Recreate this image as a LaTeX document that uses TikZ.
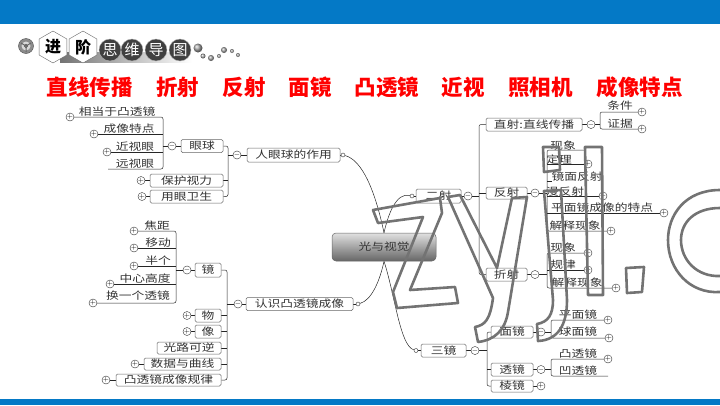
\documentclass[tikz,border=0pt]{standalone}
\usepackage{fontspec}
\newfontfamily\cjk{Noto Sans CJK SC}
\newfontfamily\mapfont[FakeStretch=1.25]{Noto Sans CJK SC}
\usetikzlibrary{backgrounds,shapes.geometric}
\definecolor{barblue}{RGB}{4,121,198}
\definecolor{wordred}{RGB}{255,0,0}
\tikzset{
  mapbox/.style={draw=black!60,fill=white,rounded corners=1.5pt,inner sep=0pt,line width=0.5pt,font=\mapfont\fontsize{10.2}{11}\selectfont,text=black!80},
  leaftext/.style={inner sep=0pt,font=\mapfont\fontsize{10.2}{11}\selectfont,text=black!80},
  foldmark/.style={circle,draw=black!80,fill=white,inner sep=0pt,minimum size=7.5pt,line width=0.4pt,font=\fontsize{7}{7}\selectfont},
  hookmark/.style={circle,draw=black!80,fill=white,inner sep=0pt,minimum size=4pt,line width=0.4pt},
  linkline/.style={draw=black!85,line width=0.5pt},
  hexmark/.style={regular polygon,regular polygon sides=6,shape border rotate=30,draw=black!60,fill=white,inner sep=0pt,minimum size=32pt,font=\cjk\bfseries\fontsize{16}{16}\selectfont},
  discmark/.style={circle,fill=black!75,draw=black!30,inner sep=0pt,minimum size=22pt,text=white,font=\cjk\fontsize{15}{15}\selectfont},
  ballmark/.style={circle,ball color=black!35,inner sep=0pt},
  wordmark/.style={inner sep=0pt,text=wordred,font=\cjk\bfseries\fontsize{21.5}{22}\selectfont},
  watermark/.style={draw=black!55,line width=2.6pt,line join=round}
}
\begin{document}
\begin{tikzpicture}[x=1pt,y=-1pt]
  \useasboundingbox (0,0) rectangle (720,405);
  \fill[barblue] (0,0) rectangle (720,24);
  \fill[barblue] (0,399) rectangle (720,405);

  \shade[left color=black!55,right color=white] (60,52) rectangle (192,62);
  \filldraw[fill=black!45,draw=black!70,line width=0.4pt] (26,46) circle (7.5);
  \fill[black!15] (26,46) circle (4.5);
  \filldraw[fill=black!45,draw=black!70,line width=0.4pt] (26,46) circle (1.8);
  \draw[black!60,line width=1pt] (26,46) -- (26,52) (26,46) -- (21,43) (26,46) -- (31,43);
  \node[hexmark] (hexAdvance) at (53,47) {进};
  \node[hexmark] (hexStep) at (83,47) {阶};
  \foreach \n/\x/\t in {discA/110/思,discB/132/维,discC/156/导,discD/180/图}
    \node[discmark] (\n) at (\x,50) {\t};
  \foreach \n/\x/\y/\r in {ballA/198/48/9,ballB/203/56/5,ballC/211/58/6,ballD/219/56/4,ballE/224/50/6,ballF/232/51/4,ballG/238/55/4}
    \node[ballmark,minimum size=\r pt] (\n) at (\x,\y) {};

  \foreach \n/\x/\t in {wordA/89.5/直线传播,wordB/177.5/折射,wordC/244/反射,wordD/310/面镜,wordE/387/凸透镜,wordF/463/近视,wordG/540.5/照相机,wordH/639.5/成像特点}
    \node[wordmark] (\n) at (\x,87) {\t};

  \foreach \n/\x/\y in {sEye/163/146,sRole/228/155,sLens/176/270,sConvex/227/304,sTwo/479/196,sLine/600/124.5,sReflect/547/193,sRefract/547/274.5,sThree/487/350.5,sMirror/551/332,sGlass/551/369.5}
    \coordinate (\n) at (\x,\y);
  \foreach \n/\x/\y in {cFar/108/169,cPhen/585/150,cSpec/552/181,cConcave/608/376}
    \coordinate (\n) at (\x,\y);

  \node[mapbox,minimum height=28pt,minimum width=104pt,rounded corners=4pt,draw=black!60,top color=black!12,bottom color=black!60] (bCore) at (384,247) {光与视觉};

  \foreach \n/\x/\y/\w/\h/\t in {
    bEyeRole/293.5/155/93/14/人眼球的作用,bEye/202/146/42/13/眼球,bGuard/186.5/180.5/73/13/保护视力,bCare/186.5/196.5/73/13/用眼卫生,
    bConvex/299.5/304/107/13/认识凸透镜成像,bLens/208/270/26/14/镜,bObject/208/315.5/26/13/物,bImage/208/331.5/26/13/像,
    bPath/189/348/64/12/光路可逆,bData/182.5/364/77/12/数据与曲线,bRule/168.5/380/105/12/凸透镜成像规律,
    bTwo/438.5/196/45/14/二射,bLine/534/124.5/96/13/直射:直线传播,bReflect/506.5/193/41/12/反射,bRefract/506.5/274.5/41/13/折射,
    bThree/443.5/350.5/45/13/三镜,bMirror/512/332/42/12/面镜,bGlass/512/369.5/42/13/透镜,bPrism/512/386/42/12/棱镜}
    \node[mapbox,minimum width=\w pt,minimum height=\h pt] (\n) at (\x,\y) {\t};

  \foreach \n/\x/\y/\s in {
    fEyeRole/237/155/-,fEye/172/146/-,fA/70/117/+,fB/94/134/+,fC/107/152/+,fGuard/141/180.5/+,fCare/142/196.5/+,
    fConvex/238/304/-,fLens/187/270/-,fFocus/134/231/+,fMove/134/248/+,fHalf/134/266/+,fHeight/110/284/+,fSwap/93/303/+,
    fObject/187/315.5/+,fImage/187/331.5/+,fData/135/364/+,fRule/106/380/+,
    fTwo/468/196/-,fLine/591/124.5/-,fCond/642/112/+,fProof/642/129/+,fReflect/535/193/-,fTheorem/588/164/+,fDiffuse/603/196/+,
    fPlane/664/213/+,fExplainA/611/231/+,fRefract/535/274.5/-,fPhen/588/253/+,fLaw/588/270/+,fExplainB/616/288/+,
    fThree/475/350.5/-,fMirror/541/332/-,fFlat/608/320/+,fBall/609/338/+,fGlass/541/369.5/-,fConv/608/359/+,fPrism/541/386/+}
    \node[foldmark] (\n) at (\x,\y) {$\s$};

  \foreach \n/\x/\y in {hEyeRole/343/155,hConvex/358/304,hTwo/412/196,hThree/416/350.5}
    \node[hookmark] (\n) at (\x,\y) {};

  \foreach \n/\x/\y/\t in {
    tA/117/112/相当于凸透镜,tB/129/129/成像特点,tC/135/147/近视眼,tD/135/164/远视眼,
    tFocus/157/226/焦距,tMove/158/243/移动,tHalf/158/261/半个,tHeight/145/279/中心高度,tSwap/138/296/换一个透镜,
    tCond/620/106/条件,tProof/620/124/证据,tPhenA/563/146/现象,tTheorem/559/160/定理,tSpec/577/177/镜面反射,tDiffuse/565/192/漫反射,
    tPlane/602/208/平面镜成像的特点,tExplainA/575/226/解释现象,tPhenB/563/248/现象,tLaw/563/265/规律,tExplainB/577/283/解释现象,
    tFlat/578/315/平面镜,tBall/578/332/球面镜,tConv/578/354/凸透镜,tConcave/578/371/凹透镜}
    \node[leaftext] (\n) at (\x,\y) {\t};

  \begin{scope}[on background layer]
    \foreach \s/\t/\b/\m in {
      sEye/fA/cFar/{fB,fC,fEye},sRole/bEye/bCare/{bGuard,fEyeRole},sLens/fFocus/fSwap/{fMove,fHalf,fHeight,fLens},
      sConvex/bLens/bRule/{bObject,bImage,bPath,bData,fConvex},sTwo/bLine/bRefract/{bReflect,fTwo},sLine/fCond/fProof/{fLine},
      sReflect/cPhen/fExplainA/{fTheorem,cSpec,fDiffuse,fPlane,fReflect},sRefract/fPhen/fExplainB/{fLaw,fRefract},
      sThree/bMirror/bPrism/{bGlass,fThree},sMirror/fFlat/fBall/{fMirror},sGlass/fConv/cConcave/{fGlass}}{
      \draw[linkline,rounded corners=2pt] (\t) -| (\s) |- (\b);
      \foreach \a in \m \draw[linkline] (\a) -- (\a -| \s);
    }
    \foreach \a/\b in {fEye/bEye,fGuard/bGuard,fCare/bCare,fEyeRole/bEyeRole,hEyeRole/bEyeRole,fConvex/bConvex,hConvex/bConvex,fLens/bLens,fObject/bObject,fImage/bImage,fData/bData,fRule/bRule,
      fTwo/bTwo,hTwo/bTwo,hThree/bThree,fLine/bLine,fReflect/bReflect,fRefract/bRefract,fThree/bThree,fMirror/bMirror,fGlass/bGlass,fPrism/bPrism}
      \draw[linkline] (\a) -- (\b);
    \draw[linkline] (hEyeRole) .. controls (362,160) and (375,190) .. (bCore.north);
    \draw[linkline] (hTwo) .. controls (396,192) and (388,215) .. (bCore.north);
    \draw[linkline] (hConvex) .. controls (372,300) and (380,280) .. (bCore.south);
    \draw[linkline] (hThree) .. controls (400,346) and (395,295) .. (bCore.south);
  \end{scope}

  \draw[watermark] (373,210) -- (440,198) -- (442,213) -- (410,290) -- (455,287) -- (458,303) -- (397,308) -- (393,292) -- (423,217) -- (378,223) -- cycle;
  \draw[watermark] (448,197) -- (460,195) -- (497,268) -- (512,198) -- (527,197) -- (508,312) .. controls (505,330) and (495,340) .. (478,342) -- (475,327) .. controls (485,325) and (490,320) .. (493,298) -- cycle;
  \draw[watermark] (544,191) -- (561,190) -- (567,300) .. controls (567,325) and (558,340) .. (538,341) -- (537,324) .. controls (548,322) and (553,315) .. (553,300) -- cycle;
  \draw[watermark] (543,147) -- (559,147) -- (560,170) -- (544,172) -- cycle;
  \draw[watermark] (585,147) -- (602,147) -- (603,295) -- (588,295) -- cycle;
  \draw[watermark] (626,268) -- (644,267) -- (642,292) -- (627,293) -- cycle;
  \draw[watermark] (720,190) .. controls (685,190) and (668,215) .. (668,240) .. controls (668,270) and (690,294) .. (720,292);
  \draw[watermark] (720,208) .. controls (695,208) and (681,222) .. (681,240) .. controls (681,260) and (697,277) .. (720,276);
\end{tikzpicture}
\end{document}
